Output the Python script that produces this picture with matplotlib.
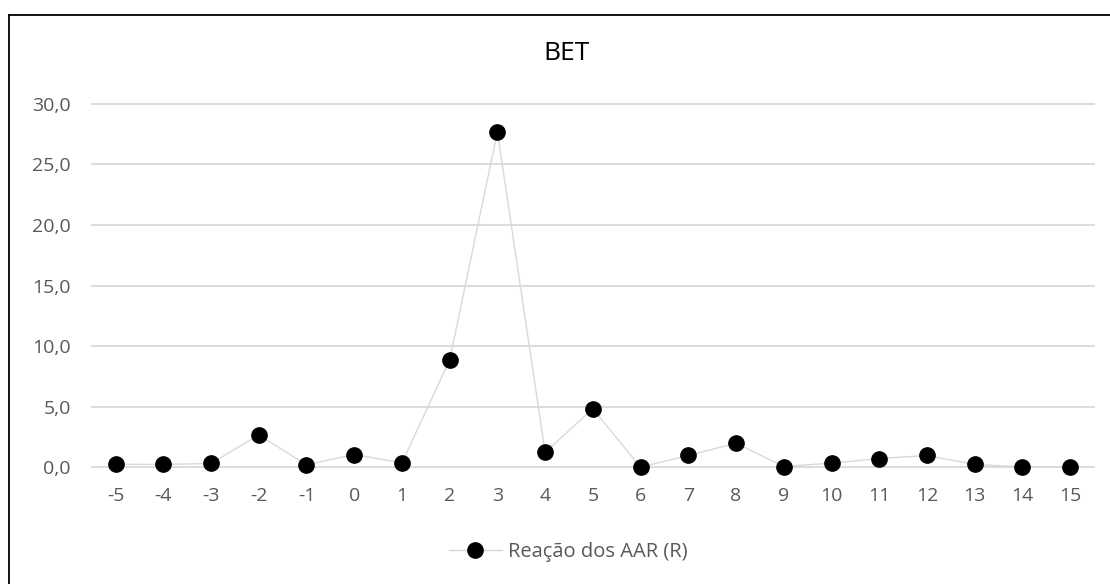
import matplotlib
matplotlib.use("Agg")
import matplotlib.pyplot as plt
from matplotlib.lines import Line2D

plt.rcParams['font.family'] = ['Open Sans', 'DejaVu Sans']

# data
lags = [-5, -4, -3, -2, -1, 0, 1, 2, 3, 4, 5, 6, 7, 8, 9, 10, 11, 12, 13, 14, 15]
reacao = [0.27, 0.25, 0.33, 2.69, 0.22, 1.07, 0.38, 8.87, 27.67, 1.26, 4.84,
          0.03, 0.99, 2.00, 0.08, 0.36, 0.74, 0.99, 0.25, 0.05, 0.0]
yticks = [0, 5, 10, 15, 20, 25, 30]
titulo = "BET"
serie_nome = "Reação dos AAR (R)"

grid_col = "#d9d9d9"
txt_col = "#595959"

fig = plt.figure(figsize=(11.1, 5.84), dpi=100)
ax = fig.add_axes([0.0826, 0.1995, 0.903, 0.6229])

pos = list(range(len(lags)))
ax.plot(pos, reacao, '-', color=grid_col, lw=1.0, marker='o', markersize=11,
        markerfacecolor='black', markeredgecolor='black', clip_on=False, zorder=3)

ax.set_xlim(-0.5, len(lags) - 0.5)
ax.set_ylim(0, 30)
ax.set_yticks(yticks)
ax.set_yticklabels([("%.1f" % v).replace('.', ',') for v in yticks])
ax.set_xticks(pos)
ax.set_xticklabels([str(v) for v in lags])
ax.tick_params(axis='both', length=0, labelsize=14, labelcolor=txt_col)
ax.tick_params(axis='y', pad=15)
ax.tick_params(axis='x', pad=14)
ax.grid(axis='y', color=grid_col, lw=1.3)
for gl in ax.get_ygridlines():
    gl.set_clip_on(False)
ax.set_axisbelow(True)
for s in ax.spines.values():
    s.set_visible(False)

fig.text(0.5105, 0.9087, titulo, ha='center', va='center', fontsize=19, color='black')

handle = Line2D([], [], color=grid_col, lw=1.0, marker='o', markersize=11,
                markerfacecolor='black', markeredgecolor='black')
fig.legend([handle], [serie_nome], loc='center', bbox_to_anchor=(0.512, 0.0553),
           frameon=False, fontsize=14.5, labelcolor=txt_col,
           handlelength=2.6, handletextpad=0.3)

# outer frame (only left and top edges are visible in the reference)
x0 = 9 / 1110
y0 = 1 - 14.7 / 584
fig.add_artist(Line2D([x0, x0], [0, y0], color='black', lw=1.3, transform=fig.transFigure))
fig.add_artist(Line2D([x0, 1], [y0, y0], color='black', lw=1.3, transform=fig.transFigure))

fig.savefig("out.png", dpi=100)
plt.close("all")
